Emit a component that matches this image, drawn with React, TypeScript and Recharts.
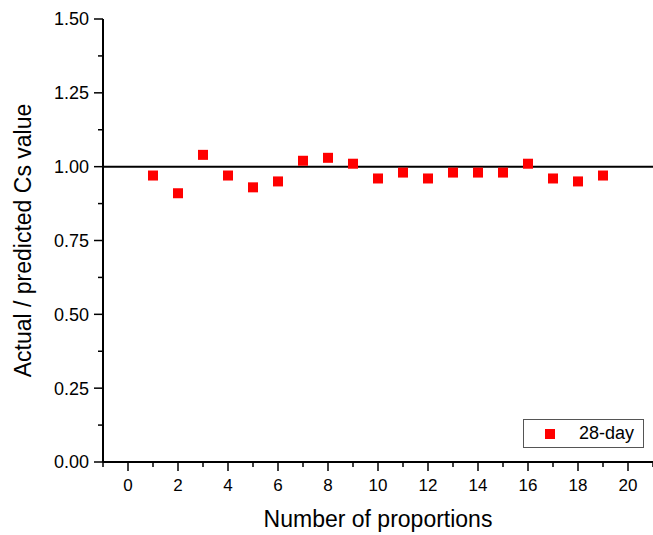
import { ScatterChart, Scatter, XAxis, YAxis, ReferenceLine, Legend } from "recharts";

const proportions = [1, 2, 3, 4, 5, 6, 7, 8, 9, 10, 11, 12, 13, 14, 15, 16, 17, 18, 19];
const cs28 = [0.97, 0.91, 1.04, 0.97, 0.93, 0.95, 1.02, 1.03, 1.01, 0.96, 0.98, 0.96, 0.98, 0.98, 0.98, 1.01, 0.96, 0.95, 0.97];

const xMajor = [0, 2, 4, 6, 8, 10, 12, 14, 16, 18, 20];
const xMinor = [-1, 1, 3, 5, 7, 9, 11, 13, 15, 17, 19, 21];
const yMajor = [0, 0.25, 0.5, 0.75, 1, 1.25, 1.5];
const yMinor = [0.125, 0.375, 0.625, 0.875, 1.125, 1.375];

const data = proportions.map((x, i) => ({ x, cs: cs28[i] }));

const FONT = "'Liberation Sans', Arial, sans-serif";

const XTick = (props: any) => {
  const { x, y, payload } = props;
  const major = xMajor.includes(payload.value);
  return (
    <g>
      <line x1={x} x2={x} y1={y} y2={y + (major ? 9 : 5)} stroke="#000" strokeWidth={1.5} />
      {major && (
        <text x={x} y={y + 29} textAnchor="middle" fontSize={17} fontFamily={FONT} fill="#000">
          {payload.value}
        </text>
      )}
    </g>
  );
};

const YTick = (props: any) => {
  const { x, y, payload } = props;
  const major = yMajor.includes(payload.value);
  return (
    <g>
      <line x1={x} x2={x - (major ? 9 : 5)} y1={y} y2={y} stroke="#000" strokeWidth={1.5} />
      {major && (
        <text x={x - 14} y={y} dy="0.36em" textAnchor="end" fontSize={18} fontFamily={FONT} fill="#000">
          {payload.value.toFixed(2)}
        </text>
      )}
    </g>
  );
};

const Square = (props: any) => (
  <rect x={props.cx - 5} y={props.cy - 5} width={10} height={10} fill="#FF0000" />
);

const LegendBox = () => (
  <div
    style={{
      width: 121,
      height: 29,
      border: "1px solid #555",
      background: "#fff",
      display: "flex",
      alignItems: "center",
      fontFamily: FONT,
      fontSize: 18,
      color: "#000",
      boxSizing: "border-box",
    }}
  >
    <span style={{ display: "inline-block", width: 10, height: 10, background: "#FF0000", marginLeft: 21, marginRight: 24 }} />
    <span>28-day</span>
  </div>
);

export default function App() {
  return (
    <div style={{ position: "absolute", left: 0, top: 0, background: "#fff" }}>
      <ScatterChart width={653} height={535} margin={{ top: 19, right: 0, left: 8, bottom: 0 }}>
        <XAxis
          type="number"
          dataKey="x"
          domain={[-1, 21]}
          ticks={[...xMinor, ...xMajor].sort((a, b) => a - b)}
          interval={0}
          allowDataOverflow
          height={73}
          tickSize={0}
          tickMargin={0}
          tickLine={false}
          tick={<XTick />}
          axisLine={{ stroke: "#000", strokeWidth: 2 }}
          label={{ value: "Number of proportions", position: "insideBottom", offset: 8, fontSize: 23, fontFamily: FONT, fill: "#000" }}
        />
        <XAxis xAxisId="top" orientation="top" type="number" domain={[-1, 21]} height={0} tick={false} tickLine={false} axisLine={{ stroke: "#000", strokeWidth: 2 }} />
        <YAxis
          type="number"
          dataKey="cs"
          domain={[0, 1.5]}
          ticks={[...yMajor, ...yMinor].sort((a, b) => a - b)}
          interval={0}
          allowDataOverflow
          width={95}
          tickSize={0}
          tickMargin={0}
          tickLine={false}
          tick={<YTick />}
          axisLine={{ stroke: "#000", strokeWidth: 2 }}
          label={{ value: "Actual / predicted Cs value", angle: -90, position: "center", dx: -33, fontSize: 23, fontFamily: FONT, fill: "#000" }}
        />
        <ReferenceLine y={1} stroke="#000" strokeWidth={2} />
        <Legend
          layout="horizontal"
          verticalAlign="middle"
          align="center"
          content={<LegendBox />}
          wrapperStyle={{ left: 523, top: 419, width: 121 }}
        />
        <Scatter name="28-day" data={data} shape={<Square />} isAnimationActive={false} />
      </ScatterChart>
    </div>
  );
}
